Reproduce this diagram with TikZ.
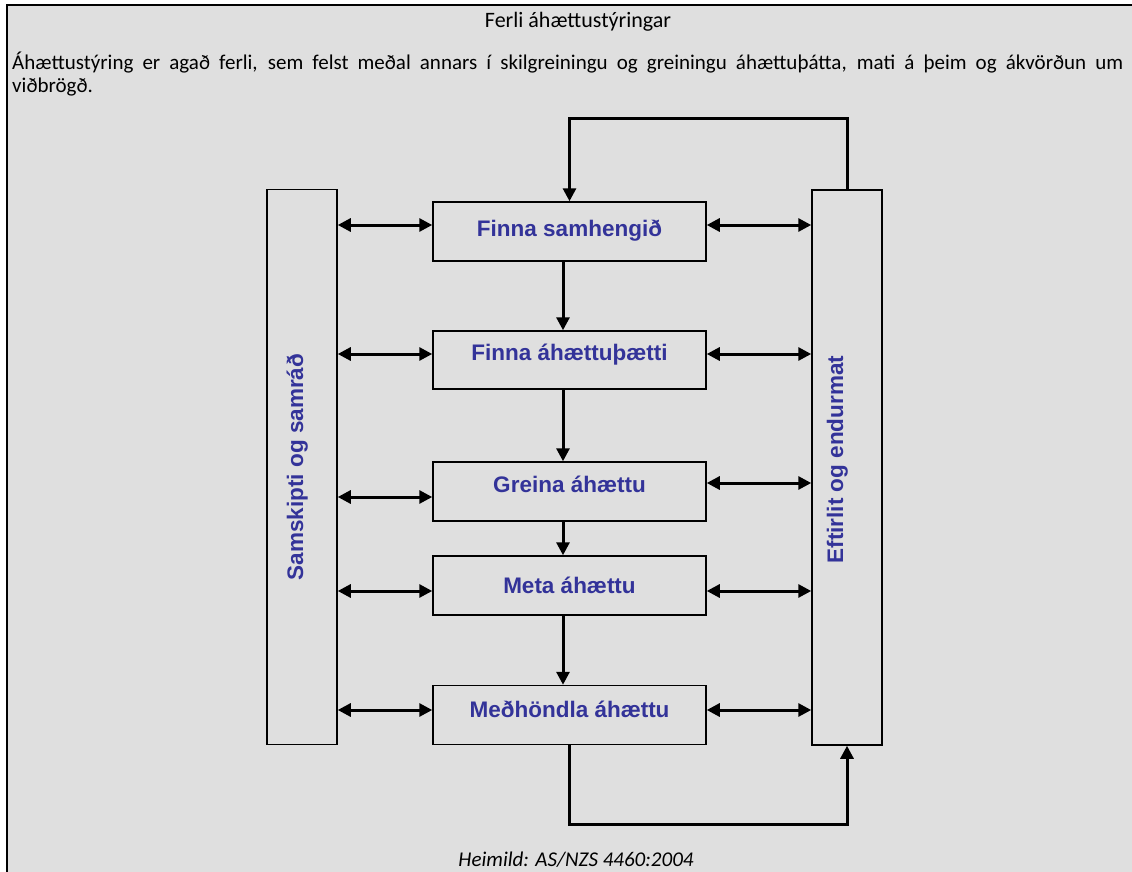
\documentclass[tikz,border=0pt]{standalone}
\usepackage{fontspec}
\setmainfont{Carlito}
\newfontfamily\boxfont{Liberation Sans}
\usetikzlibrary{arrows.meta}
\definecolor{panel}{RGB}{223,223,223}
\definecolor{labelblue}{RGB}{51,51,153}
\begin{document}
\begin{tikzpicture}[x=1pt,y=-1pt,
  boxtext/.style={font=\boxfont\bfseries\fontsize{22.5}{26}\selectfont, text=labelblue, text height=16pt},
  stepbox/.style={boxtext, draw, line width=1.5pt, inner sep=0pt,
    minimum width=273pt, minimum height=59pt},
  tallbox/.style={boxtext, draw, line width=1.5pt, inner sep=0pt, rotate=90,
    minimum width=555pt, minimum height=70pt},
  tip/.tip={Triangle[length=13pt,width=13pt]},
  flow/.style={line width=3pt, -tip},
  twoway/.style={line width=3pt, tip-tip},
  plain/.style={font=\fontsize{21}{23}\selectfont, inner sep=0pt}]

% page and frame
\useasboundingbox (0,0) rectangle (1132,872);
\fill[panel] (7,5) rectangle (1132,872);
\draw[line width=2pt] (7,872) -- (7,5) -- (1132,5);

% heading, introduction and source
\node[plain, font=\fontsize{22}{24}\selectfont, anchor=base] (title) at (578,28) {Ferli áhættustýringar};
\node[plain, anchor=base west, align=left] (intro) at (12,93)
  {\makebox[1111pt][s]{Áhættustýring er agað ferli, sem felst meðal annars í skilgreiningu og greiningu áhættuþátta, mati á þeim og ákvörðun um}\\viðbrögð.};
\node[plain, anchor=base, font=\itshape\fontsize{21}{23}\selectfont] (source) at (576,866) {Heimild: AS/NZS 4460:2004};

% side columns
\node[tallbox, text depth=14pt] (sam) at (302,467) {Samskipti og samráð};
\node[tallbox, text depth=24pt] (eft) at (847,467.5) {\hspace*{16pt}Eftirlit og endurmat};

% process steps
\node[stepbox, text depth=7pt]  (b1) at (569.5,231.5) {Finna samhengið};
\node[stepbox, minimum height=58pt, text depth=16pt] (b2) at (569.5,360) {Finna áhættuþætti};
\node[stepbox, text depth=15pt] (b3) at (569.5,491.5) {Greina áhættu};
\node[stepbox, text depth=0pt]  (b4) at (569.5,585.5) {Meta áhættu};
\node[stepbox, text depth=12pt] (b5) at (569.5,715) {Meðhöndla áhættu};

% reference lines for the connectors
\coordinate (down) at (563,0);
\coordinate (r1) at (0,225);
\coordinate (r2) at (0,354);
\coordinate (r3l) at (0,497);
\coordinate (r3r) at (0,483);
\coordinate (r4) at (0,591);
\coordinate (r5) at (0,710);
\coordinate (loopt) at (0,119);
\coordinate (loopb) at (0,824);

% step to step
\draw[flow] (b1.south -| down) -- (b2.north -| down);
\draw[flow] (b2.south -| down) -- (b3.north -| down);
\draw[flow] (b3.south -| down) -- (b4.north -| down);
\draw[flow] (b4.south -| down) -- (b5.north -| down);

% links with the side columns
\draw[twoway] (sam.south |- r1) -- (b1.west |- r1);
\draw[twoway] (b1.east |- r1) -- (eft.north |- r1);
\draw[twoway] (sam.south |- r2) -- (b2.west |- r2);
\draw[twoway] (b2.east |- r2) -- (eft.north |- r2);
\draw[twoway] (sam.south |- r3l) -- (b3.west |- r3l);
\draw[twoway] (b3.east |- r3r) -- (eft.north |- r3r);
\draw[twoway] (sam.south |- r4) -- (b4.west |- r4);
\draw[twoway] (b4.east |- r4) -- (eft.north |- r4);
\draw[twoway] (sam.south |- r5) -- (b5.west |- r5);
\draw[twoway] (b5.east |- r5) -- (eft.north |- r5);

% feedback loops
\draw[flow] (eft.east) |- (loopt -| b1.north) -- (b1.north);
\draw[flow] (b5.south) |- (loopb -| eft.west) -- (eft.west);
\end{tikzpicture}
\end{document}
